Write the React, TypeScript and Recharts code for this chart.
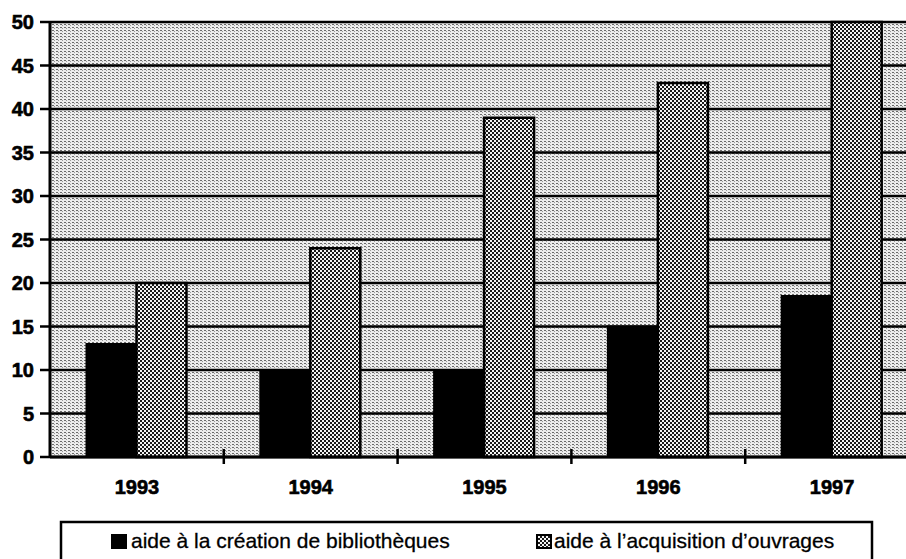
import React from "react";
import { BarChart, Bar, XAxis, YAxis, CartesianGrid } from "recharts";

const categories = ["1993", "1994", "1995", "1996", "1997"];
const creation = [13, 10, 10, 15, 18.5];
const acquisition = [20, 24, 39, 43, 50];
const yTicks = [0, 5, 10, 15, 20, 25, 30, 35, 40, 45, 50];
const seriesNames = ["aide à la création de bibliothèques", "aide à l’acquisition d’ouvrages"];

const data = categories.map((c, i) => ({
  year: c,
  creation: creation[i],
  acquisition: acquisition[i],
}));

const FONT = '"Liberation Sans", Arial, sans-serif';
const X_TICK_MARGIN = 23;

function Patterns({ suffix = "" }: { suffix?: string }) {
  return (
    <defs>
      <pattern id={"bgPat" + suffix} width="4" height="3" patternUnits="userSpaceOnUse">
        <rect width="4" height="3" fill="#ececec" />
        <rect x="0" y="0" width="2" height="1" fill="#6a6a6a" />
        <rect x="2" y="1" width="1" height="1" fill="#9a9a9a" />
      </pattern>
      <pattern id={"chkPat" + suffix} width="4" height="4" patternUnits="userSpaceOnUse">
        <rect width="4" height="4" fill="#f4f4f4" />
        <rect x="0" y="0" width="2" height="2" fill="#1a1a1a" />
        <rect x="2" y="2" width="2" height="2" fill="#1a1a1a" />
      </pattern>
    </defs>
  );
}

function YearTick(props: any) {
  const { x, y, payload, index, visibleTicksCount } = props;
  const half = payload && typeof payload.offset === "number" ? payload.offset : 0;
  const axisY = y - X_TICK_MARGIN;
  const isLast = index === (visibleTicksCount ?? categories.length) - 1;
  return (
    <g>
      {index > 0 && half > 0 && (
        <line x1={x - half} x2={x - half} y1={axisY - 8} y2={axisY + 7} stroke="#000" strokeWidth={2.5} />
      )}
      {isLast && half > 0 && (
        <line x1={x + half} x2={x + half} y1={axisY - 8} y2={axisY + 7} stroke="#000" strokeWidth={2.5} />
      )}
      <text
        x={x}
        y={y}
        dy="0.71em"
        textAnchor="middle"
        fontFamily={FONT}
        fontSize={20}
        fontWeight={700}
        fill="#000"
        stroke="#000"
        strokeWidth={0.6}
      >
        {payload.value}
      </text>
    </g>
  );
}

export default function App() {
  return (
    <div
      style={{
        position: "absolute",
        left: 0,
        top: 0,
        width: 906,
        height: 559,
        overflow: "hidden",
        background: "#fff",
        fontFamily: FONT,
      }}
    >
      <BarChart
        width={935}
        height={559}
        data={data}
        margin={{ top: 22, right: 16, bottom: 0, left: 0 }}
        barCategoryGap="21%"
        barGap={0}
      >
        <Patterns />
        <CartesianGrid
          vertical={false}
          stroke="#000"
          strokeWidth={2.5}
          fill="url(#bgPat)"
          fillOpacity={1}
        />
        <XAxis
          dataKey="year"
          tickSize={0}
          tickMargin={X_TICK_MARGIN}
          height={102}
          tickLine={false}
          interval={0}
          axisLine={{ stroke: "#000", strokeWidth: 3 }}
          tick={<YearTick />}
        />
        <YAxis
          width={50}
          domain={[0, 50]}
          ticks={yTicks}
          interval={0}
          tickSize={10}
          tickMargin={6}
          tickLine={{ stroke: "#000", strokeWidth: 2.5 }}
          axisLine={{ stroke: "#000", strokeWidth: 3 }}
          tick={{ fill: "#000", stroke: "#000", strokeWidth: 0.6, fontSize: 20, fontWeight: 700, fontFamily: FONT }}
        />
        <Bar
          dataKey="creation"
          name={seriesNames[0]}
          fill="#000"
          stroke="#000"
          strokeWidth={2}
          isAnimationActive={false}
        />
        <Bar
          dataKey="acquisition"
          name={seriesNames[1]}
          fill="url(#chkPat)"
          stroke="#000"
          strokeWidth={2.5}
          isAnimationActive={false}
        />
      </BarChart>
      <svg
        width={906}
        height={559}
        style={{ position: "absolute", left: 0, top: 0, pointerEvents: "none" }}
      >
        <Patterns suffix="L" />
        <rect x={61} y={522} width={811} height={60} fill="none" stroke="#000" strokeWidth={2.5} />
        <rect x={111} y={534} width={16} height={15} fill="#000" />
        <text x={131} y={548} fontFamily={FONT} fontSize={21} fill="#000" stroke="#000" strokeWidth={0.3}>
          {seriesNames[0]}
        </text>
        <rect x={537} y={535} width={14} height={13} fill="url(#chkPatL)" stroke="#000" strokeWidth={2} />
        <text x={554} y={548} fontFamily={FONT} fontSize={21} fill="#000" stroke="#000" strokeWidth={0.3}>
          {seriesNames[1]}
        </text>
      </svg>
    </div>
  );
}
